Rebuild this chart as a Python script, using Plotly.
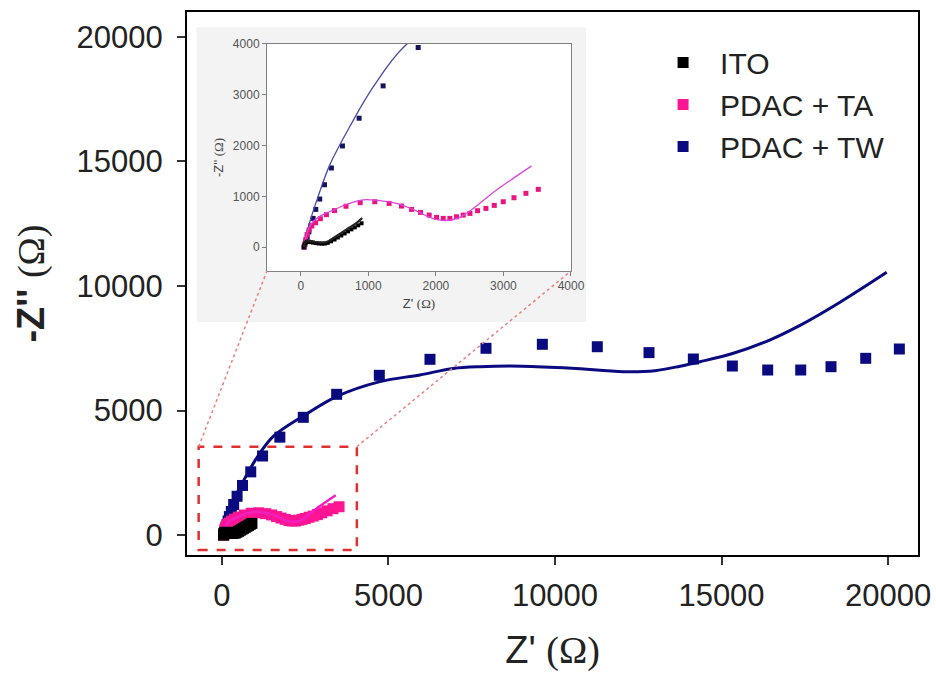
import plotly.graph_objects as go

# ---- measured impedance data (Z', -Z'') in ohms ----
ito_x = [45, 55, 70, 90, 115, 145, 180, 220, 265, 310, 355, 400, 450, 500,
         550, 600, 650, 700, 750, 800, 850, 900]
ito_y = [0, 40, 80, 105, 110, 100, 90, 80, 72, 68, 70, 85, 115, 150,
         190, 230, 270, 310, 350, 390, 430, 470]

ta_x = [50, 60, 75, 95, 125, 165, 220, 290, 380, 500, 670, 880, 1096, 1308,
        1491, 1640, 1773, 1901, 2010, 2109, 2207, 2306, 2405, 2504, 2617,
        2741, 2864, 2997, 3156, 3333, 3516]
ta_y = [0, 60, 150, 250, 340, 420, 480, 560, 640, 720, 805, 875, 894, 861,
        809, 743, 684, 631, 585, 566, 566, 598, 631, 664, 717, 763, 822, 894,
        973, 1059, 1138]

tw_x = [50, 60, 75, 95, 120, 150, 183, 222, 281, 351, 454, 617, 864, 1219,
        1738, 2442, 3444, 4725, 6246, 7928, 9620, 11270, 12823, 14154, 15325,
        16387, 17378, 18288, 19330, 20340]
tw_y = [0, 50, 110, 200, 300, 420, 566, 743, 947, 1229, 1558, 1992, 2538,
        3175, 3931, 4727, 5651, 6414, 7056, 7498, 7659, 7562, 7325, 7068,
        6787, 6627, 6627, 6760, 7096, 7470]

# ---- equivalent-circuit fits ----
ito_fit_x = [45, 60, 85, 120, 170, 230, 300, 370, 440, 520, 600, 680, 760, 840, 910]
ito_fit_y = [0, 70, 110, 120, 112, 98, 88, 95, 140, 210, 280, 350, 420, 495, 570]

ta_fit_x = [50, 70, 110, 180, 300, 500, 700, 923, 1100, 1417, 1700, 1911,
            2109, 2306, 2454, 2899, 3417]
ta_fit_y = [0, 150, 350, 500, 620, 740, 850, 930, 925, 860, 720, 585,
            525, 560, 664, 1124, 1600]

tw_fit_x = [50, 70, 140, 260, 430, 720, 1070, 1540, 2440, 3440, 4745, 5946,
            6946, 7748, 9000, 10500, 12052, 13000, 13754, 14354, 15355, 16357,
            17357, 18559, 19960]
tw_fit_y = [0, 150, 520, 1010, 1620, 2360, 3150, 3960, 4780, 5560, 6160, 6430,
            6690, 6760, 6780, 6700, 6560, 6600, 6780, 6960, 7300, 7780, 8420,
            9350, 10550]

main_ticks = [0, 5000, 10000, 15000, 20000]
main_tick_text = ["0", "5000", "10000", "15000", "20000"]
inset_ticks = [0, 1000, 2000, 3000, 4000]
inset_tick_text = ["0", "1000", "2000", "3000", "4000"]

NAVY = "#0a0a80"
PINK = "#ff1493"
BLACK = "#000000"
FONT = "Liberation Sans, Arial, sans-serif"
OHM = "<span style='font-family:Liberation Serif, Times New Roman, serif'>(Ω)</span>"

fig = go.Figure()

# main panel: data (squares) with fits on top
series = [
    ("PDAC + TW", tw_x, tw_y, tw_fit_x, tw_fit_y, NAVY, NAVY, 3),
    ("PDAC + TA", ta_x, ta_y, ta_fit_x, ta_fit_y, PINK, "#f020c0", 2.5),
    ("ITO", ito_x, ito_y, ito_fit_x, ito_fit_y, BLACK, BLACK, 2.5),
]
for name, dx, dy, fx, fy, mc, lc, lw in series:
    fig.add_trace(go.Scatter(
        x=dx, y=dy, mode="markers", name=name,
        marker=dict(symbol="square", size=11, color=mc, line=dict(width=0)),
        xaxis="x", yaxis="y"))
    fig.add_trace(go.Scatter(
        x=fx, y=fy, mode="lines", showlegend=False,
        line=dict(color=lc, width=lw, shape="spline", smoothing=1.0),
        xaxis="x", yaxis="y"))

# inset panel: zoom on the low-impedance region
inset = [
    (tw_x, tw_y, tw_fit_x, tw_fit_y, "#14145e", "#4a4aa8", 1.3, 5),
    (ta_x, ta_y, ta_fit_x, ta_fit_y, "#e8157f", "#dd44dd", 1.3, 5),
    (ito_x, ito_y, ito_fit_x, ito_fit_y, BLACK, "#222222", 2.2, 4),
]
for dx, dy, fx, fy, mc, lc, lw, ms in inset:
    fig.add_trace(go.Scatter(
        x=dx, y=dy, mode="markers", showlegend=False,
        marker=dict(symbol="square", size=ms, color=mc, line=dict(width=0)),
        xaxis="x2", yaxis="y2"))
    fig.add_trace(go.Scatter(
        x=fx, y=fy, mode="lines", showlegend=False,
        line=dict(color=lc, width=lw, shape="spline", smoothing=1.0),
        xaxis="x2", yaxis="y2"))

# zoom box and connector lines
fig.add_shape(type="rect", xref="x", yref="y", x0=-700, x1=4050, y0=-600, y1=3550,
              line=dict(color="#e03030", width=2.5, dash="dash"), layer="above")
fig.add_shape(type="line", xref="x", yref="y", x0=-700, y0=3550, x1=1351, y1=10602,
              line=dict(color="#e88080", width=1.5, dash="dot"), layer="above")
fig.add_shape(type="line", xref="x", yref="y", x0=4050, y0=3550, x1=10480, y1=10602,
              line=dict(color="#e88080", width=1.5, dash="dot"), layer="above")
# light panel behind the inset, slightly lighter inside its axes
fig.add_shape(type="rect", xref="paper", yref="paper", x0=0.013, x1=0.546,
              y0=0.429, y1=0.972, fillcolor="#f3f3f3", line=dict(width=0), layer="below")
fig.add_shape(type="rect", xref="paper", yref="paper", x0=0.1094, x1=0.5253,
              y0=0.523, y1=0.9411, fillcolor="#f9f9f9", line=dict(width=0), layer="below")

fig.update_layout(
    width=936, height=675,
    margin=dict(l=187, r=18, t=12, b=120, autoexpand=False),
    paper_bgcolor="white", plot_bgcolor="white",
    font=dict(family=FONT, color="#222222"),
    showlegend=True,
    legend=dict(x=0.628, y=0.955, xanchor="left", yanchor="top",
                font=dict(size=30, color="#222222", family=FONT),
                bgcolor="rgba(0,0,0,0)", traceorder="reversed",
                itemwidth=64),
    xaxis=dict(domain=[0, 1], range=[-1050, 20900], tickvals=main_ticks,
               ticktext=main_tick_text, automargin=False,
               showgrid=False, zeroline=False, showline=True, mirror=True,
               linecolor="black", linewidth=2, ticks="outside", ticklen=8,
               tickwidth=2, tickcolor="#333", tickfont=dict(size=31, color="#222"),
               ticklabelstandoff=4,
               title=dict(text="Z' " + OHM, font=dict(size=38, color="#222"), standoff=24),
               anchor="y"),
    yaxis=dict(domain=[0, 1], range=[-800, 21000], tickvals=main_ticks,
               ticktext=main_tick_text, automargin=False,
               showgrid=False, zeroline=False, showline=True, mirror=True,
               linecolor="black", linewidth=2, ticks="outside", ticklen=8,
               tickwidth=2, tickcolor="#333", tickfont=dict(size=31, color="#222"),
               ticklabelstandoff=8,
               title=dict(text="<b>-Z''</b> " + OHM, font=dict(size=38, color="#222"),
                          standoff=20),
               anchor="x"),
    xaxis2=dict(domain=[0.1094, 0.5253], range=[-500, 4000], tickvals=inset_ticks,
                ticktext=inset_tick_text, automargin=False,
                showgrid=False, zeroline=False, showline=True, mirror=True,
                linecolor="#808080", linewidth=1, ticks="outside", ticklen=4,
                tickcolor="#808080", tickfont=dict(size=12, color="#555"),
                title=dict(text="Z' " + OHM, font=dict(size=13, color="#444"), standoff=6),
                anchor="y2"),
    yaxis2=dict(domain=[0.523, 0.9411], range=[-470, 4000], tickvals=inset_ticks,
                ticktext=inset_tick_text, automargin=False,
                showgrid=False, zeroline=False, showline=True, mirror=True,
                linecolor="#808080", linewidth=1, ticks="outside", ticklen=4,
                tickcolor="#808080", tickfont=dict(size=12, color="#555"),
                title=dict(text="-Z'' " + OHM, font=dict(size=13, color="#444"), standoff=6),
                anchor="x2"),
)

fig.write_html("out.html")
